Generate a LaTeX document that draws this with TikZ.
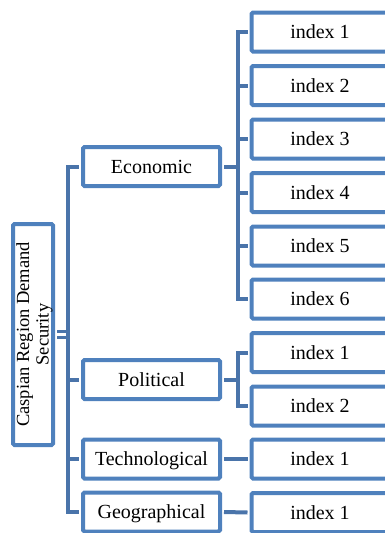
\documentclass[tikz,border=0pt]{standalone}
\usepackage{fontspec}
\setmainfont{Liberation Serif}
\definecolor{boxblue}{HTML}{4F81BD}
\definecolor{lineblue}{HTML}{4A74AA}
\begin{document}
\begin{tikzpicture}[x=1pt,y=-1pt,
  box/.style={draw=boxblue,line width=4pt,rounded corners=1.5pt,fill=white,minimum width=137pt,minimum height=39pt,inner sep=0pt,text height=13.5pt,text depth=0pt,font=\fontsize{20}{22}\selectfont},
  lbl/.style={inner sep=0pt,text height=13.5pt,text depth=0pt,font=\fontsize{20}{22}\selectfont},
  conn/.style={draw=lineblue,line width=4pt},
]
\path[use as bounding box,clip] (0,0) rectangle (385,533);
\coordinate (tr) at (68,0);
\coordinate (st) at (237.5,0);
% nodes
\node[box,minimum width=40pt,minimum height=221pt] (root) at (33,334.5) {};
\node[rotate=90,align=center,font=\fontsize{18.5}{19.5}\selectfont] (roottxt) at (34.5,334.5) {Caspian Region Demand\\Security};
\node[box] (econ) at (151.5,166.5) {Economic};
\node[box] (pol) at (151.5,379.5) {Political};
\node[box] (tech) at (151.5,459) {Technological};
\node[box] (geo) at (151.5,512) {Geographical};
\foreach \n/\y in {e1/32,e2/85.5,e3/139,e4/192.5,e5/246,e6/299,p1/352.5,p2/406,t1/459,g1/512.5}{
  \node[box] (\n) at (320,\y) {};
}
\node[lbl] at (e1) {index 1};
\node[lbl] at (e2) {index 2};
\node[lbl] at (e3) {index 3};
\node[lbl] at (e4) {index 4};
\node[lbl] at (e5) {index 5};
\node[lbl] at (e6) {index 6};
\node[lbl] at (p1) {index 1};
\node[lbl] at (p2) {index 2};
\node[lbl] at (t1) {index 1};
\node[lbl] at (g1) {index 1};
% root connectors
\draw[draw=lineblue,line width=2.5pt] ([xshift=2pt,yshift=3pt]root.east) -- ([yshift=3pt]root.east -| tr);
\draw[draw=lineblue,line width=2.5pt] ([xshift=2pt,yshift=-3pt]root.east) -- ([yshift=-3pt]root.east -| tr);
\foreach \t in {econ,pol,tech,geo}{
  \draw[conn] (root.east -| tr) |- ([xshift=-2pt]\t.west);
}
% economic
\foreach \t in {e1,e2,e3,e4,e5,e6}{
  \draw[conn] ([xshift=2pt]econ.east) -- (econ.east -| st) |- ([xshift=-2pt]\t.west);
}
\foreach \t in {p1,p2}{
  \draw[conn] ([xshift=2pt]pol.east) -- (pol.east -| st) |- ([xshift=-2pt]\t.west);
}
\draw[conn] ([xshift=2pt]tech.east) -- ([xshift=-2pt]t1.west);
\draw[conn] ([xshift=2pt]geo.east) -- ([xshift=-2pt]g1.west);
\end{tikzpicture}
\end{document}
